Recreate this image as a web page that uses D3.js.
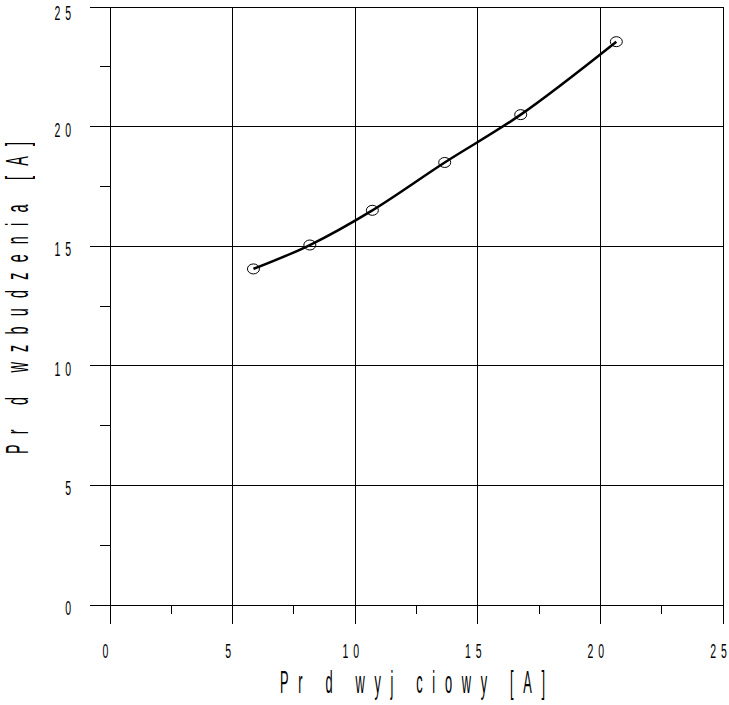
<!DOCTYPE html>
<html>
<head>
<meta charset="utf-8">
<script src="https://cdn.jsdelivr.net/npm/d3@7"></script>
<style>
  html, body { margin: 0; padding: 0; background: #fff; }
  svg { display: block; }
  text { fill: #000; }
  .txt { opacity: 0.999; }
</style>
</head>
<body>
<svg id="chart" width="729" height="705"></svg>
<script>
// ---- data ----
const xValues = [5.85, 8.15, 10.7, 13.65, 16.75, 20.65];   // Prąd wyjściowy [A]
const yValues = [14.05, 15.05, 16.5, 18.5, 20.5, 23.55];   // Prąd wzbudzenia [A]
const majorTicks = [0, 5, 10, 15, 20, 25];
const minorTicks = [2.5, 7.5, 12.5, 17.5, 22.5];
const tickLabels = ["0", "5", "1 0", "1 5", "2 0", "2 5"];
const xTitle = "Pr d wyj ciowy [A]";
const yTitle = "Pr d wzbudzenia [A]";

(function () {
const svg = d3.select("#chart");
const pL = 110, pR = 723, pT = 7, pB = 605;
const x = d3.scaleLinear().domain([0, 25]).range([pL, pR]);
const y = d3.scaleLinear().domain([0, 25]).range([pB, pT]);
const FONT = "'Liberation Sans', Arial, sans-serif";

const g = svg.append("g");

// grid lines (extend beyond plot like major ticks)
g.selectAll("line.vgrid").data(majorTicks).join("line").attr("class", "vgrid")
  .attr("x1", d => x(d)).attr("x2", d => x(d))
  .attr("y1", pT).attr("y2", pB + 19)
  .attr("stroke", "#000").attr("stroke-width", 1).attr("shape-rendering", "crispEdges");
g.selectAll("line.hgrid").data(majorTicks).join("line").attr("class", "hgrid")
  .attr("x1", pL - 20).attr("x2", pR)
  .attr("y1", d => y(d)).attr("y2", d => y(d))
  .attr("stroke", "#000").attr("stroke-width", 1).attr("shape-rendering", "crispEdges");

// minor ticks
g.selectAll("line.xminor").data(minorTicks).join("line").attr("class", "xminor")
  .attr("x1", d => x(d)).attr("x2", d => x(d))
  .attr("y1", pB).attr("y2", pB + 9)
  .attr("stroke", "#000").attr("shape-rendering", "crispEdges");
g.selectAll("line.yminor").data(minorTicks).join("line").attr("class", "yminor")
  .attr("x1", pL - 10).attr("x2", pL)
  .attr("y1", d => y(d)).attr("y2", d => y(d))
  .attr("stroke", "#000").attr("shape-rendering", "crispEdges");

// tick labels (condensed)
const sx = 0.5;
majorTicks.forEach((t, i) => {
  const by = Math.max(y(t) + 10, 20);
  svg.append("g").attr("class", "txt").attr("transform", `translate(72,${by}) scale(${sx},1)`)
    .append("text").attr("text-anchor", "end")
    .attr("font-family", FONT).attr("font-size", 21)
    .style("letter-spacing", "2px")
    .text(tickLabels[i]);
  svg.append("g").attr("class", "txt").attr("transform", `translate(${x(t) - 4},658) scale(${sx},1)`)
    .append("text").attr("text-anchor", "middle")
    .attr("font-family", FONT).attr("font-size", 21)
    .style("letter-spacing", "2px")
    .text(tickLabels[i]);
});

// x title
const xs = 0.4;
svg.append("g").attr("class", "txt").attr("transform", `translate(280,693) scale(${xs},1)`)
  .append("text")
  .attr("font-family", FONT).attr("font-size", 32)
  .attr("textLength", 265 / xs).attr("lengthAdjust", "spacing")
  .text(xTitle);

// y title (rotated)
const ys = 0.45;
svg.append("g").attr("class", "txt").attr("transform", `translate(28,454) rotate(-90) scale(${ys},1)`)
  .append("text")
  .attr("font-family", FONT).attr("font-size", 32)
  .attr("textLength", 312 / ys).attr("lengthAdjust", "spacing")
  .text(yTitle);

// data line
const pts = xValues.map((v, i) => [v, yValues[i]]);
svg.append("path")
  .attr("d", d3.line().x(d => x(d[0])).y(d => y(d[1])).curve(d3.curveCatmullRom)(pts))
  .attr("fill", "none").attr("stroke", "#000").attr("stroke-width", 2.5);

// markers
svg.selectAll("ellipse.pt").data(pts).join("ellipse").attr("class", "pt")
  .attr("cx", d => x(d[0])).attr("cy", d => y(d[1]))
  .attr("rx", 6).attr("ry", 5)
  .attr("fill", "none").attr("stroke", "#000").attr("stroke-width", 1);
})();
</script>
</body>
</html>
